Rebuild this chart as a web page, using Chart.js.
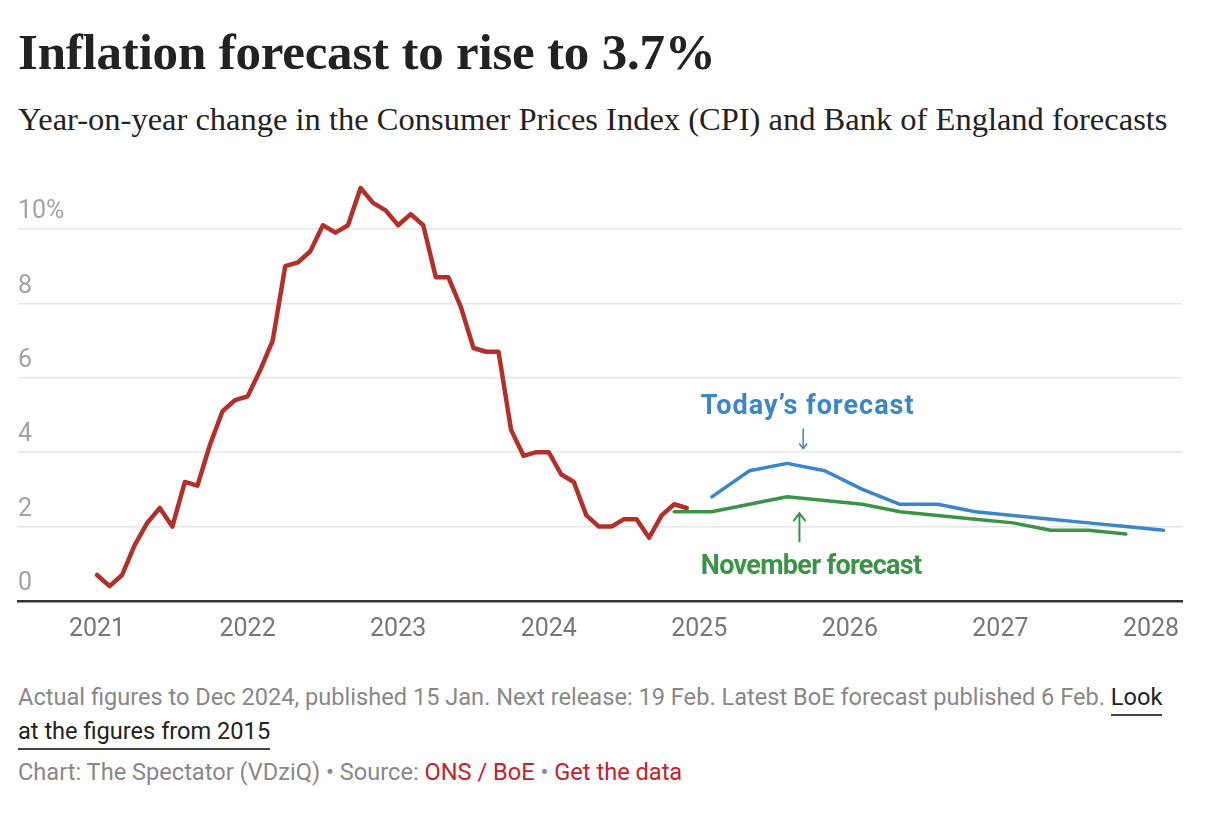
<!DOCTYPE html>
<html>
<head>
<meta charset="utf-8">
<script src="https://cdn.jsdelivr.net/npm/chart.js@4"></script>
<style>
  body { margin: 0; background: #fff; width: 1230px; height: 816px; position: relative; overflow: hidden; }
  #title { position: absolute; left: 18px; top: 23px; font: bold 51px 'Liberation Serif', serif; color: #222; letter-spacing: -0.2px; }
  #subtitle { position: absolute; left: 18px; top: 101px; font: 32.5px 'Liberation Serif', serif; color: #222; }
  #chartBox { position: absolute; left: 0; top: 147px; width: 1200px; height: 504px; }
  #notes { position: absolute; left: 18px; top: 680px; width: 1150px; font: 23.6px Roboto, sans-serif; line-height: 34px; color: #888; }
  #notes a { color: #222; text-decoration: none; border-bottom: 2px solid #444; padding-bottom: 3px; }
  #source { position: absolute; left: 18px; top: 758px; font: 23.6px Roboto, sans-serif; color: #888; }
  #source span { color: #c8202b; }
</style>
</head>
<body>
<div id="title">Inflation forecast to rise to 3.7%</div>
<div id="subtitle">Year-on-year change in the Consumer Prices Index (CPI) and Bank of England forecasts</div>
<div id="chartBox"><canvas id="inflationChart"></canvas></div>
<div id="notes">Actual figures to Dec 2024, published 15 Jan. Next release: 19 Feb. Latest BoE forecast published 6 Feb. <a>Look at the figures from 2015</a></div>
<div id="source">Chart: The Spectator (VDziQ) • Source: <span>ONS / BoE</span> • <span>Get the data</span></div>

<script>
// CPI actuals, monthly Jan 2021 - Dec 2024
const cpiStart = 2021;
const cpiValues = [
    0.7, 0.4, 0.7, 1.5, 2.1, 2.5, 2.0, 3.2, 3.1, 4.2, 5.1, 5.4,
    5.5, 6.2, 7.0, 9.0, 9.1, 9.4, 10.1, 9.9, 10.1, 11.1, 10.7, 10.5,
    10.1, 10.4, 10.1, 8.7, 8.7, 7.9, 6.8, 6.7, 6.7, 4.6, 3.9, 4.0,
    4.0, 3.4, 3.2, 2.3, 2.0, 2.0, 2.2, 2.2, 1.7, 2.3, 2.6, 2.5
];

// BoE forecasts, quarterly (plotted mid-quarter)
const todayDates = ['2025-02', '2025-05', '2025-08', '2025-11', '2026-02', '2026-05', '2026-08', '2026-11', '2027-02', '2027-05', '2027-08', '2027-11', '2028-02'];
const todayValues = [2.8, 3.5, 3.7, 3.5, 3.0, 2.6, 2.6, 2.4, 2.3, 2.2, 2.1, 2.0, 1.9];

const novemberDates = ['2024-11', '2025-02', '2025-05', '2025-08', '2025-11', '2026-02', '2026-05', '2026-08', '2026-11', '2027-02', '2027-05', '2027-08', '2027-11'];
const novemberValues = [2.4, 2.4, 2.6, 2.8, 2.7, 2.6, 2.4, 2.3, 2.2, 2.1, 1.9, 1.9, 1.8];

const yearTicks = [2021, 2022, 2023, 2024, 2025, 2026, 2027, 2028];
const yTicks = [0, 2, 4, 6, 8, 10];

const RED = '#b52f29';
const BLUE = '#3a86c8';
const GREEN = '#3a9346';

function toYear(str) {
    const parts = str.split('-');
    return parseInt(parts[0]) + (parseInt(parts[1]) - 1) / 12;
}

const cpiPoints = cpiValues.map((v, i) => ({ x: cpiStart + i / 12, y: v }));
const todayPoints = todayDates.map((d, i) => ({ x: toYear(d), y: todayValues[i] }));
const novemberPoints = novemberDates.map((d, i) => ({ x: toYear(d), y: novemberValues[i] }));

// text labels and arrows for the two forecast lines
const annotationPlugin = {
    id: 'forecastLabels',
    afterDatasetsDraw(chart) {
        const ctx = chart.ctx;
        const xs = chart.scales.x;
        const ys = chart.scales.y;
        ctx.save();
        ctx.font = "bold 27px Roboto, sans-serif";
        ctx.textBaseline = 'middle';
        ctx.textAlign = 'left';

        ctx.fillStyle = BLUE;
        ctx.letterSpacing = '1px';
        ctx.fillText('Today\u2019s forecast', xs.getPixelForValue(2025.01), ys.getPixelForValue(5.22));
        ctx.fillStyle = GREEN;
        ctx.letterSpacing = '-0.7px';
        ctx.fillText('November forecast', xs.getPixelForValue(2025.01), ys.getPixelForValue(0.92));
        ctx.letterSpacing = '0px';

        // blue arrow pointing down
        let ax = xs.getPixelForValue(2025.69);
        let top = ys.getPixelForValue(4.64), bottom = ys.getPixelForValue(4.1);
        ctx.strokeStyle = BLUE;
        ctx.lineWidth = 1.5;
        ctx.beginPath();
        ctx.moveTo(ax, top); ctx.lineTo(ax, bottom);
        ctx.moveTo(ax - 4, bottom - 5); ctx.lineTo(ax, bottom); ctx.lineTo(ax + 4, bottom - 5);
        ctx.stroke();

        // green arrow pointing up
        ax = xs.getPixelForValue(2025.665);
        top = ys.getPixelForValue(2.36); bottom = ys.getPixelForValue(1.58);
        ctx.strokeStyle = GREEN;
        ctx.lineWidth = 2;
        ctx.beginPath();
        ctx.moveTo(ax, bottom); ctx.lineTo(ax, top);
        ctx.moveTo(ax - 6, top + 8); ctx.lineTo(ax, top); ctx.lineTo(ax + 6, top + 8);
        ctx.stroke();
        ctx.restore();
    }
};

new Chart(document.getElementById('inflationChart'), {
    type: 'line',
    data: {
        datasets: [
            { label: 'November forecast', data: novemberPoints, borderColor: GREEN, borderWidth: 3.5 },
            { label: "Today's forecast", data: todayPoints, borderColor: BLUE, borderWidth: 3.5 },
            { label: 'CPI', data: cpiPoints, borderColor: RED, borderWidth: 4.5 }
        ]
    },
    options: {
        responsive: true,
        maintainAspectRatio: false,
        animation: false,
        layout: { padding: { left: 18, right: 18, top: 0, bottom: 0 } },
        elements: {
            point: { radius: 0 },
            line: { tension: 0, borderJoinStyle: 'round', borderCapStyle: 'round' }
        },
        plugins: {
            legend: { display: false },
            tooltip: { enabled: false }
        },
        scales: {
            x: {
                type: 'linear',
                min: 2020.475,
                max: 2028.206,
                afterBuildTicks: axis => { axis.ticks = yearTicks.map(v => ({ value: v })); },
                grid: { display: false },
                border: { display: true, color: '#333', width: 2.5 },
                ticks: {
                    color: '#777',
                    font: { family: 'Roboto', size: 25 },
                    padding: 6,
                    maxRotation: 0,
                    callback: v => String(v)
                }
            },
            y: {
                min: 0,
                max: 11.8,
                afterBuildTicks: axis => { axis.ticks = yTicks.map(v => ({ value: v })); },
                grid: { color: '#e5e5e5', lineWidth: 1.5, drawTicks: false },
                border: { display: false },
                ticks: {
                    mirror: true,
                    padding: 0,
                    labelOffset: -17,
                    color: '#a3a3a3',
                    font: { family: 'Roboto', size: 25 },
                    callback: v => v === 10 ? '10%' : String(v)
                }
            }
        }
    },
    plugins: [annotationPlugin]
});
</script>
</body>
</html>
